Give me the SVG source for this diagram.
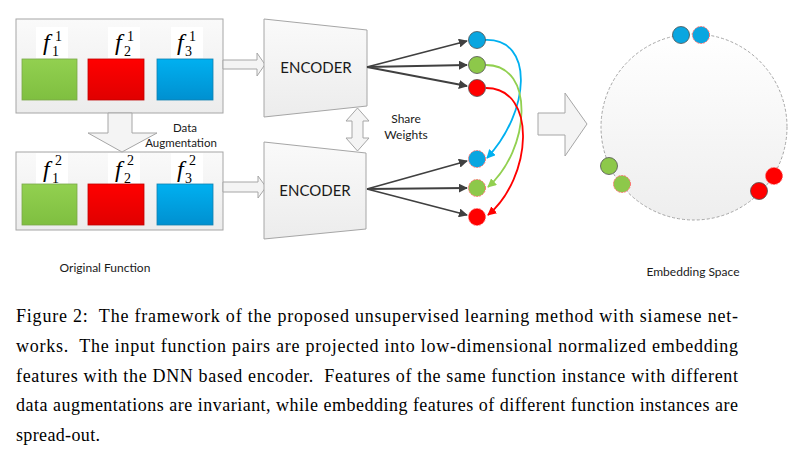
<svg xmlns="http://www.w3.org/2000/svg" width="807" height="458" viewBox="0 0 807 458">
<defs>
<linearGradient id="gBox" x1="0" y1="0" x2="0" y2="1"><stop offset="0" stop-color="#fafafa"/><stop offset="1" stop-color="#ececec"/></linearGradient>
<linearGradient id="gGreen" x1="0" y1="0" x2="0" y2="1"><stop offset="0" stop-color="#92d050"/><stop offset="1" stop-color="#7fbf40"/></linearGradient>
<linearGradient id="gRed" x1="0" y1="0" x2="0" y2="1"><stop offset="0" stop-color="#ff0000"/><stop offset="1" stop-color="#e00000"/></linearGradient>
<linearGradient id="gBlue" x1="0" y1="0" x2="0" y2="1"><stop offset="0" stop-color="#00b0f0"/><stop offset="1" stop-color="#0090d0"/></linearGradient>
<linearGradient id="gCircle" x1="0" y1="0" x2="0" y2="1"><stop offset="0" stop-color="#ffffff"/><stop offset="1" stop-color="#eeeeee"/></linearGradient>
<marker id="mDark" viewBox="0 0 10 10" refX="9" refY="5" markerWidth="5" markerHeight="5" orient="auto" markerUnits="strokeWidth"><path d="M0,0 L10,5 L0,10 z" fill="#404040"/></marker>
<marker id="mBlue" viewBox="0 0 10 10" refX="9" refY="5" markerWidth="5" markerHeight="5" orient="auto" markerUnits="strokeWidth"><path d="M0,0 L10,5 L0,10 z" fill="#00b0f0"/></marker>
<marker id="mGreen" viewBox="0 0 10 10" refX="9" refY="5" markerWidth="5" markerHeight="5" orient="auto" markerUnits="strokeWidth"><path d="M0,0 L10,5 L0,10 z" fill="#92d050"/></marker>
<marker id="mRed" viewBox="0 0 10 10" refX="9" refY="5" markerWidth="5" markerHeight="5" orient="auto" markerUnits="strokeWidth"><path d="M0,0 L10,5 L0,10 z" fill="#ff0000"/></marker>
</defs>
<style>
.box{fill:url(#gBox);stroke:#a6a6a6;stroke-width:1}
.enc{fill:url(#gBox);stroke:#a6a6a6;stroke-width:1}
.blk{fill:#f4f4f4;stroke:#a6a6a6;stroke-width:1}
.lab{fill:#ffffff}
.green{fill:url(#gGreen);stroke:#7aa84a;stroke-width:0.8}
.red{fill:url(#gRed);stroke:#c00000;stroke-width:0.8}
.blue{fill:url(#gBlue);stroke:#1080b0;stroke-width:0.8}
.dot{stroke:#505050;stroke-width:0.8}
.aug{stroke:#ff7070;stroke-width:1;stroke-dasharray:2 1}
.dB{fill:#0aa6e0}.dG{fill:#8dc84a}.dR{fill:#ff0000}
.sans{font-family:Lato,"Open Sans","Liberation Sans",sans-serif;fill:#1a1a1a}
.f{font-family:"Liberation Serif","Times New Roman",serif;font-size:24px;font-style:italic;fill:#000}
.idx{font-family:"Liberation Serif","Times New Roman",serif;font-size:14px;fill:#000}
.cap{font-family:"Liberation Serif","Times New Roman",serif;font-size:18px;fill:#000}
.conn{fill:none;stroke:#404040;stroke-width:1.8;marker-end:url(#mDark)}
.cB{fill:none;stroke:#00b0f0;stroke-width:1.8;marker-end:url(#mBlue)}
.cG{fill:none;stroke:#92d050;stroke-width:1.8;marker-end:url(#mGreen)}
.cR{fill:none;stroke:#ff0000;stroke-width:1.8;marker-end:url(#mRed)}
</style>
<rect width="807" height="458" fill="#ffffff"/>

<g id="original-set">
<rect class="box" x="16" y="19" width="207" height="94"/>
<rect class="lab" x="36" y="27" width="32" height="31"/>
<rect class="lab" x="108" y="27" width="32" height="31"/>
<rect class="lab" x="171" y="27" width="32" height="31"/>
<text class="f" x="43" y="50">f</text>
<text class="idx" x="55" y="41">1</text>
<text class="idx" x="52" y="56">1</text>
<text class="f" x="115" y="50">f</text>
<text class="idx" x="127" y="41">1</text>
<text class="idx" x="124" y="56">2</text>
<text class="f" x="177" y="50">f</text>
<text class="idx" x="189" y="41">1</text>
<text class="idx" x="185" y="56">3</text>
<rect class="green" x="22" y="59" width="55" height="41"/>
<rect class="red" x="88" y="59" width="56" height="41"/>
<rect class="blue" x="157" y="59" width="56" height="41"/>
</g>

<g id="augmented-set">
<rect class="box" x="16" y="152" width="207" height="78"/>
<rect class="lab" x="36" y="153" width="32" height="31"/>
<rect class="lab" x="108" y="153" width="32" height="31"/>
<rect class="lab" x="171" y="153" width="32" height="31"/>
<text class="f" x="43" y="177">f</text>
<text class="idx" x="55" y="165">2</text>
<text class="idx" x="52" y="183">1</text>
<text class="f" x="115" y="177">f</text>
<text class="idx" x="127" y="165">2</text>
<text class="idx" x="124" y="183">2</text>
<text class="f" x="177" y="177">f</text>
<text class="idx" x="189" y="165">2</text>
<text class="idx" x="185" y="183">3</text>
<rect class="green" x="22" y="184" width="55" height="41"/>
<rect class="red" x="88" y="184" width="56" height="41"/>
<rect class="blue" x="157" y="184" width="56" height="41"/>
</g>

<g id="data-augmentation">
<path class="blk" d="M108,113 H132 V133 H157 L122,152 L88,133 H108 Z"/>
<text class="sans" x="185" y="132" font-size="11.5" text-anchor="middle">Data</text>
<text class="sans" x="181" y="147" font-size="11.5" text-anchor="middle">Augmentation</text>
</g>

<g id="input-arrows">
<path class="blk" d="M223,60 H257 V53 L265,64.5 L257,76 V69 H223 Z"/>
<path class="blk" d="M223,182 H258 V176 L266,187 L258,198 V192 H223 Z"/>
</g>

<g id="encoder-1">
<polygon class="enc" points="264,19 367,30 367,106 264,117"/>
<text class="sans" x="316" y="73" font-size="15" text-anchor="middle">ENCODER</text>
</g>
<g id="encoder-2">
<polygon class="enc" points="264,142 366,153 366,229 264,239"/>
<text class="sans" x="315" y="196" font-size="15" text-anchor="middle">ENCODER</text>
</g>

<g id="share-weights">
<path class="blk" d="M357.5,108 L369,121 H363 V138 H369 L357.5,151 L346,138 H352 V121 H346 Z"/>
<text class="sans" x="406" y="123" font-size="12" text-anchor="middle">Share</text>
<text class="sans" x="406" y="139" font-size="12" text-anchor="middle">Weights</text>
</g>

<g id="connectors">
<line class="conn" x1="367" y1="67" x2="467" y2="41"/>
<line class="conn" x1="367" y1="67" x2="467" y2="65"/>
<line class="conn" x1="367" y1="67" x2="467" y2="86"/>
<line class="conn" x1="367" y1="189" x2="467" y2="161"/>
<line class="conn" x1="367" y1="189" x2="467" y2="188"/>
<line class="conn" x1="367" y1="189" x2="467" y2="215"/>
<path class="cB" d="M485,40 C535,38 530,112 487,158"/>
<path class="cG" d="M486,65 C536,65 530,150 488,187"/>
<path class="cR" d="M486,88 C538,88 532,178 488,215"/>
</g>

<g id="features-1">
<circle class="dot dB" cx="477" cy="40" r="8.5"/>
<circle class="dot dG" cx="477" cy="65" r="8.5"/>
<circle class="dot dR" cx="477" cy="88" r="8.5"/>
</g>
<g id="features-2">
<circle class="aug dB" cx="477" cy="159" r="8.5"/>
<circle class="aug dG" cx="477" cy="188" r="8.5"/>
<circle class="aug dR" cx="477" cy="217" r="8.5"/>
</g>

<g id="projection-arrow">
<path class="blk" d="M538,113 H565 V93 L587,124 L565,156 V135 H538 Z"/>
</g>

<g id="embedding-space">
<circle cx="694" cy="127" r="93" fill="url(#gCircle)" stroke="#a6a6a6" stroke-width="1" stroke-dasharray="3 2"/>
<circle class="dot dB" cx="681" cy="35" r="8.5"/>
<circle class="aug dB" cx="701" cy="35" r="8.5"/>
<circle class="dot dG" cx="609" cy="166" r="8.5"/>
<circle class="aug dG" cx="622" cy="184" r="8.5"/>
<circle class="aug dR" cx="774" cy="176" r="8.5"/>
<circle class="dot dR" cx="759" cy="191" r="8.5"/>
</g>

<g id="labels">
<text class="sans" x="105" y="272" font-size="12" text-anchor="middle">Original Function</text>
<text class="sans" x="693" y="276" font-size="12" text-anchor="middle">Embedding Space</text>
</g>

<g id="caption">
<text class="cap" x="16" y="322" textLength="722" lengthAdjust="spacing">Figure 2:&#160; The framework of the proposed unsupervised learning method with siamese net-</text>
<text class="cap" x="16" y="352" textLength="722" lengthAdjust="spacing">works.&#160; The input function pairs are projected into low-dimensional normalized embedding</text>
<text class="cap" x="16" y="382" textLength="722" lengthAdjust="spacing">features with the DNN based encoder.&#160; Features of the same function instance with different</text>
<text class="cap" x="16" y="411" textLength="722" lengthAdjust="spacing">data augmentations are invariant, while embedding features of different function instances are</text>
<text class="cap" x="16" y="441" textLength="84" lengthAdjust="spacing">spread-out.</text>
</g>
</svg>
